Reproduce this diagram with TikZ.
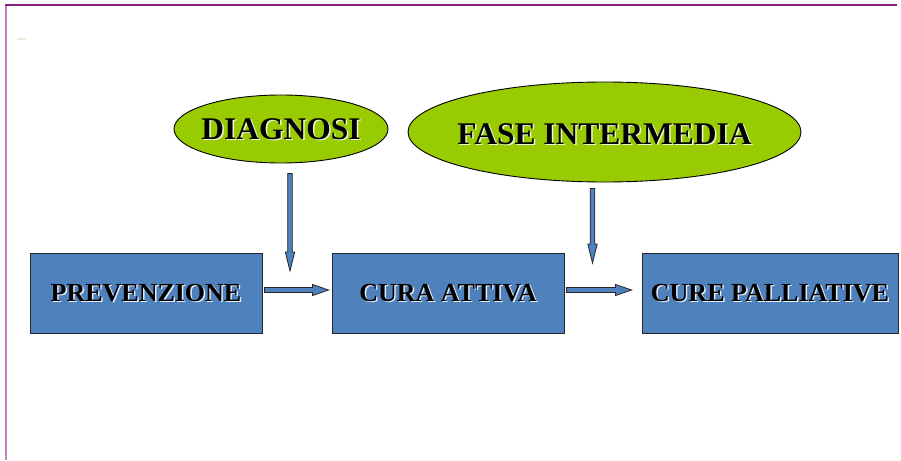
\documentclass[tikz,border=0pt]{standalone}
\usepackage{fontspec}
\setmainfont{Liberation Serif}
\usetikzlibrary{shapes.geometric,calc}
\definecolor{boxblue}{RGB}{79,129,189}
\definecolor{limegreen}{RGB}{153,204,0}
\definecolor{topline}{RGB}{128,32,128}
\definecolor{sideline}{RGB}{196,128,196}
\definecolor{markbeige}{RGB}{236,234,218}
\newcommand\hblockarrow[2]{\draw[blockarrow] let \p1=(#1), \p2=(#2) in
  (\x1,\y1+2.5pt) -- (\x2-16pt,\y1+2.5pt) -- (\x2-16pt,\y1+5.5pt) -- (\x2,\y1)
  -- (\x2-16pt,\y1-5.5pt) -- (\x2-16pt,\y1-2.5pt) -- (\x1,\y1-2.5pt) -- cycle;}
\newcommand\vblockarrow[2]{\draw[blockarrow] let \p1=(#1), \p2=(#2) in
  (\x2-2.3pt,\y1) -- (\x2-2.3pt,\y2+19pt) -- (\x2-4.7pt,\y2+19pt) -- (\x2,\y2)
  -- (\x2+4.7pt,\y2+19pt) -- (\x2+2.3pt,\y2+19pt) -- (\x2+2.3pt,\y1) -- cycle;}
\begin{document}
\begin{tikzpicture}[x=1pt,y=-1pt,
  stagebox/.style={draw=black!85, line width=0.9pt, fill=boxblue, minimum width=232pt, minimum height=80pt, inner sep=0pt},
  bubble/.style={ellipse, draw=black, line width=0.9pt, fill=limegreen, inner sep=0pt},
  boxtxt/.style={font=\bfseries\fontsize{26}{30}\selectfont, text=black, inner sep=0pt},
  bubtxt/.style={font=\bfseries\fontsize{31.5}{36}\selectfont, text=black, inner sep=0pt},
  glow/.style={text=white, opacity=0.85},
  blockarrow/.style={draw=black!85, line width=0.8pt, fill=boxblue, line join=miter}
]
\useasboundingbox (0,0) rectangle (901,460);
\fill[white] (0,0) rectangle (901,460);
\draw[sideline, line width=2pt] (6,5) -- (6,460);
\draw[topline, line width=2pt] (5,5) -- (897,5);
\fill[markbeige] (17,38) rectangle (26,40.5);

% boxes
\node[stagebox] (prev) at (146,293) {};
\node[stagebox] (cura) at (448,293) {};
\node[stagebox, minimum width=256pt] (pall) at (770,293) {};

% ellipses
\node[bubble, minimum width=214pt, minimum height=68pt] (diag) at (281,129) {};
\node[bubble, minimum width=393pt, minimum height=100pt] (fase) at (604.5,132) {};

% texts with light shadow
\node[boxtxt, glow] at ([shift={(1.5,1.5)}]prev.center) {PREVENZIONE};
\node[boxtxt] (tprev) at (prev.center) {PREVENZIONE};
\node[boxtxt, glow] at ([shift={(1.5,1.5)}]cura.center) {CURA ATTIVA};
\node[boxtxt] (tcura) at (cura.center) {CURA ATTIVA};
\node[boxtxt, glow] at ([shift={(1.5,1.5)}]pall.center) {CURE PALLIATIVE};
\node[boxtxt] (tpall) at (pall.center) {CURE PALLIATIVE};
\node[bubtxt, glow] at ([shift={(1.5,1.5)}]diag.center) {DIAGNOSI};
\node[bubtxt] (tdiag) at (diag.center) {DIAGNOSI};
\node[bubtxt, glow] at ([shift={(1.5,3.5)}]fase.center) {FASE INTERMEDIA};
\node[bubtxt] (tfase) at ([shift={(0,2)}]fase.center) {FASE INTERMEDIA};

% arrow end points
\coordinate (tipA) at (290,271);
\coordinate (tipB) at (592.5,263);
\coordinate (startA) at ([shift={(9,10)}]diag.south);
\coordinate (startB) at ([shift={(-12,6)}]fase.south);

\vblockarrow{startA}{tipA}
\vblockarrow{startB}{tipB}
\hblockarrow{[shift={(2,-3)}]prev.east}{[shift={(-3,-3)}]cura.west}
\hblockarrow{[shift={(2,-3)}]cura.east}{[shift={(-10,-3)}]pall.west}
\end{tikzpicture}
\end{document}
